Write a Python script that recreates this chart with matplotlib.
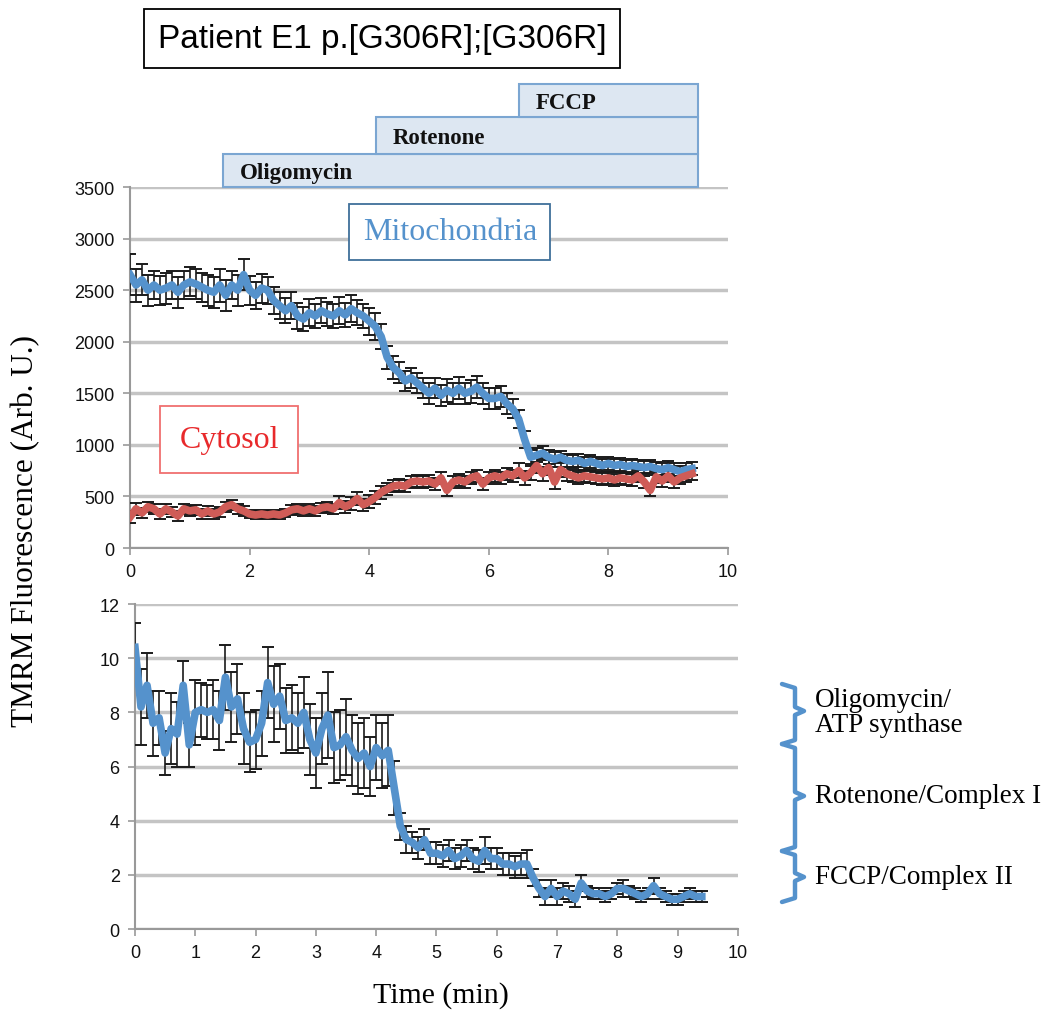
import matplotlib
matplotlib.use("Agg")
import matplotlib.pyplot as plt
from matplotlib.patches import Rectangle
import numpy as np

# time axis, one reading every 0.1 min
time_min = np.round(np.arange(0, 9.45, 0.1), 1)

mito = [2650, 2550, 2600, 2500, 2550, 2500, 2520, 2550, 2480, 2550,
        2580, 2560, 2530, 2500, 2480, 2550, 2450, 2550, 2500, 2650,
        2500, 2450, 2520, 2500, 2400, 2350, 2300, 2350, 2250, 2220,
        2280, 2250, 2300, 2270, 2250, 2300, 2260, 2320, 2280, 2250,
        2200, 2150, 2050, 1850, 1750, 1700, 1620, 1650, 1600, 1550,
        1500, 1550, 1480, 1530, 1500, 1550, 1500, 1520, 1560, 1500,
        1450, 1450, 1470, 1400, 1350, 1250, 1050, 880, 900, 920,
        880, 860, 880, 850, 840, 850, 820, 840, 820, 800,
        820, 800, 810, 790, 800, 790, 780, 790, 770, 760,
        780, 760, 740, 760, 770]
mito_err = [200, 160, 150, 150, 140, 140, 150, 140, 150, 140,
            140, 150, 140, 150, 150, 160, 150, 140, 150, 150,
            140, 130, 140, 130, 130, 130, 120, 130, 130, 120,
            130, 120, 120, 120, 120, 130, 120, 130, 120, 120,
            130, 130, 120, 110, 110, 100, 100, 100, 100, 100,
            100, 100, 100, 110, 100, 110, 100, 110, 110, 100,
            100, 100, 100, 100, 90, 90, 80, 70, 70, 70,
            70, 70, 60, 60, 60, 60, 60, 60, 60, 60,
            60, 60, 60, 60, 60, 60, 60, 60, 60, 60,
            60, 60, 60, 60, 60]

cyto = [300, 380, 340, 400, 380, 330, 380, 350, 310, 380,
        360, 370, 330, 360, 330, 350, 400, 420, 380, 360,
        330, 320, 330, 320, 330, 320, 340, 370, 380, 360,
        380, 360, 390, 400, 380, 440, 400, 430, 480, 420,
        450, 490, 540, 570, 600, 610, 600, 640, 650, 640,
        650, 620, 680, 560, 640, 660, 640, 680, 700, 620,
        680, 700, 680, 720, 700, 750, 680, 730, 800, 720,
        780, 640, 760, 720, 700, 680, 700, 690, 680, 670,
        680, 660, 680, 670, 660, 700, 640, 560, 690, 650,
        700, 640, 680, 700, 720]
cyto_err = [60, 60, 50, 50, 50, 50, 50, 50, 50, 50,
            50, 50, 50, 50, 50, 50, 50, 50, 50, 50,
            40, 40, 40, 40, 40, 40, 40, 50, 50, 50,
            50, 50, 50, 50, 50, 60, 60, 60, 60, 60,
            60, 60, 60, 60, 60, 60, 60, 60, 60, 60,
            60, 60, 60, 60, 60, 60, 60, 60, 60, 60,
            60, 60, 60, 60, 60, 70, 70, 70, 70, 70,
            70, 70, 70, 70, 60, 60, 60, 60, 60, 60,
            60, 60, 60, 60, 60, 60, 60, 60, 60, 60,
            60, 60, 60, 60, 60]

ratio = [10.4, 8.2, 9.0, 7.6, 7.8, 6.5, 7.4, 7.2, 9.0, 6.8,
         8.0, 8.1, 8.0, 8.1, 7.7, 9.3, 8.2, 8.5, 7.4, 6.9,
         7.0, 7.6, 9.1, 8.3, 8.6, 7.7, 7.8, 7.6, 8.0, 7.0,
         6.5, 7.4, 7.9, 6.7, 6.8, 7.1, 6.6, 6.3, 6.5, 6.0,
         6.7, 6.4, 6.6, 5.2, 3.8, 3.3, 3.2, 3.0, 3.3, 2.8,
         2.8, 2.7, 2.9, 2.6, 2.7, 2.9, 2.6, 2.5, 2.9, 2.6,
         2.6, 2.4, 2.4, 2.3, 2.4, 2.4, 1.9, 1.5, 1.2, 1.5,
         1.2, 1.4, 1.3, 1.1, 1.7, 1.4, 1.3, 1.3, 1.2, 1.3,
         1.5, 1.5, 1.4, 1.3, 1.2, 1.3, 1.6, 1.3, 1.2, 1.1,
         1.1, 1.2, 1.3, 1.2, 1.2]
ratio_err = [0.9, 1.4, 1.2, 1.2, 1.0, 0.8, 1.3, 1.2, 0.9, 0.8,
             1.2, 1.0, 1.0, 1.1, 1.1, 1.2, 1.3, 1.3, 1.3, 1.1,
             1.1, 1.2, 1.3, 1.4, 1.2, 1.2, 1.2, 1.1, 1.3, 1.3,
             1.3, 1.3, 1.6, 1.3, 1.3, 1.4, 1.3, 1.3, 1.3, 1.1,
             1.2, 1.2, 1.3, 1.0, 0.5, 0.5, 0.4, 0.4, 0.4, 0.4,
             0.4, 0.4, 0.4, 0.4, 0.4, 0.4, 0.4, 0.4, 0.5, 0.4,
             0.4, 0.4, 0.4, 0.4, 0.4, 0.5, 0.3, 0.3, 0.3, 0.3,
             0.3, 0.3, 0.3, 0.3, 0.3, 0.2, 0.2, 0.2, 0.2, 0.2,
             0.2, 0.3, 0.2, 0.2, 0.2, 0.2, 0.3, 0.2, 0.2, 0.2,
             0.2, 0.2, 0.2, 0.2, 0.2]

drugs = ["Oligomycin", "Rotenone", "FCCP"]
drug_start = [1.55, 4.12, 6.5]
drug_end = 9.5

bracket_labels = ["Oligomycin/\nATP synthase", "Rotenone/Complex I", "FCCP/Complex II"]

BLUE = "#5592cc"
RED = "#cf5c57"
GRID = "#c4c4c4"
TICKFONT = "Liberation Sans"
SERIF = "Liberation Serif"

fig = plt.figure(figsize=(10.52, 10.12), dpi=100)


def style_axes(ax, ymax, ystep, xstep):
    ax.set_xlim(0, 10)
    ax.set_ylim(0, ymax)
    ax.set_yticks(np.arange(0, ymax + ystep / 2, ystep))
    ax.set_xticks(np.arange(0, 10.01, xstep))
    for s in ["top", "right"]:
        ax.spines[s].set_visible(False)
    for s in ["left", "bottom"]:
        ax.spines[s].set_color("#999999")
        ax.spines[s].set_linewidth(1.5)
    ax.yaxis.grid(True, color=GRID, linewidth=2.5)
    ax.set_axisbelow(True)
    ax.tick_params(direction="out", length=5, width=1.2, color="#999999",
                   labelsize=13, pad=6)
    for lab in ax.get_xticklabels() + ax.get_yticklabels():
        lab.set_fontfamily(TICKFONT)
        lab.set_color("#111111")


# top panel
ax1 = fig.add_axes([0.1236, 0.4575, 0.5684, 0.3567])
style_axes(ax1, 3500, 500, 2)
ax1.errorbar(time_min, mito, yerr=mito_err, fmt="none", ecolor="#1a1a1a",
             elinewidth=1.2, capsize=4, capthick=1.4, zorder=3)
ax1.errorbar(time_min, cyto, yerr=cyto_err, fmt="none", ecolor="#1a1a1a",
             elinewidth=1.2, capsize=4, capthick=1.4, zorder=3)
ax1.plot(time_min, mito, color=BLUE, lw=5.5, zorder=4, solid_joinstyle="round")
ax1.plot(time_min, cyto, color=RED, lw=5.5, zorder=4, solid_joinstyle="round")

ax1.text(5.35, 3065, "Mitochondria", fontsize=23, color=BLUE, family=SERIF,
         ha="center", va="center",
         bbox=dict(boxstyle="square,pad=0.42", fc="white", ec="#3f6f9a", lw=1.3))
ax1.text(1.66, 1050, "Cytosol", fontsize=23, color="#e8292b", family=SERIF,
         ha="center", va="center",
         bbox=dict(boxstyle="square,pad=0.6", fc="white", ec="#f07070", lw=1.3))

# drug application bars above the top panel
tr = ax1.get_xaxis_transform()
bar_bottom = [1.0, 1.0914, 1.194]
bar_h = [0.0914, 0.1026, 0.091]
for name, x0, y0, h in zip(drugs, drug_start, bar_bottom, bar_h):
    ax1.add_patch(Rectangle((x0, y0), drug_end - x0, h, transform=tr,
                            fc="#dde7f2", ec="#7ba6d2", lw=1.5,
                            clip_on=False, zorder=5))
    ax1.text(x0 + 0.28, y0 + h * 0.45, name, transform=tr, fontsize=16.5,
             fontweight="bold", family=SERIF, va="center", ha="left",
             color="#111111", zorder=6)

# bottom panel
ax2 = fig.add_axes([0.1283, 0.0810, 0.5732, 0.3211])
style_axes(ax2, 12, 2, 1)
ax2.errorbar(time_min, ratio, yerr=ratio_err, fmt="none", ecolor="#1a1a1a",
             elinewidth=1.2, capsize=4, capthick=1.4, zorder=3)
ax2.plot(time_min, ratio, color=BLUE, lw=5.5, zorder=4, solid_joinstyle="round")

# title box
fig.text(0.363, 0.961, "Patient E1 p.[G306R];[G306R]", fontsize=24,
         family=TICKFONT, ha="center", va="center",
         bbox=dict(boxstyle="square,pad=0.42", fc="white", ec="black", lw=1.3))

fig.text(0.024, 0.475, "TMRM Fluorescence (Arb. U.)", rotation=90,
         fontsize=22.5, family=SERIF, ha="center", va="center")
fig.text(0.419, 0.0165, "Time (min)", fontsize=21.5, family=SERIF,
         ha="center", va="center")

# curly brackets on the right of the bottom panel
def px(x, y):
    return x / 1052, 1 - y / 1012

bx = 795
segs = [(685, 745, 712), (745, 852, 797), (852, 903, 878)]
for (ya, yb, ym) in segs:
    xs, ys = zip(*[px(782, ya), px(bx, ya + 4), px(bx, ym - 4),
                   px(804, ym), px(bx, ym + 4), px(bx, yb - 4), px(782, yb)])
    fig.add_artist(plt.Line2D(xs, ys, color=BLUE, lw=3.2,
                              solid_joinstyle="round", solid_capstyle="round"))

label_y = [713, 797, 878]
for lab, y in zip(bracket_labels, label_y):
    fx, fy = px(815, y)
    fig.text(fx, fy, lab, fontsize=19.5, family=SERIF, ha="left", va="center",
             linespacing=1.0)

fig.savefig("out.png", dpi=100)
